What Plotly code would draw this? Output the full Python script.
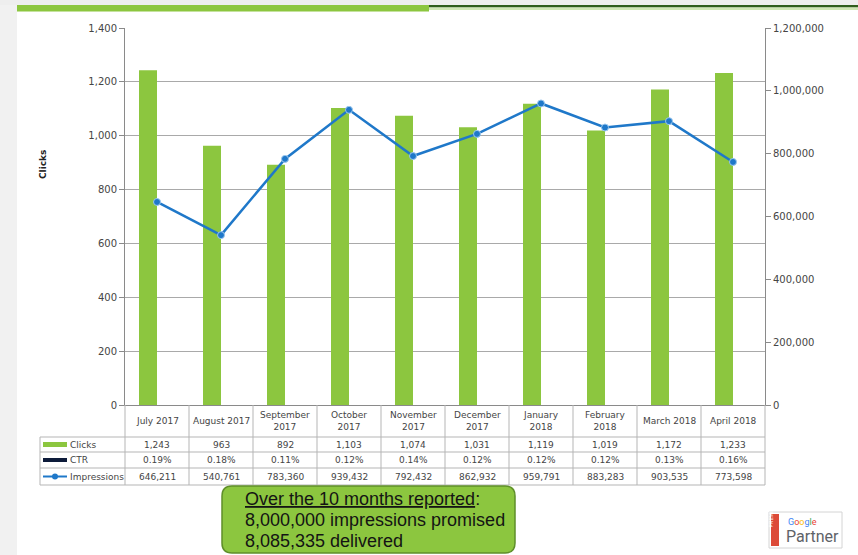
import plotly.graph_objects as go

# ---- data ----
months = ["July 2017", "August 2017", "September 2017", "October 2017", "November 2017",
          "December 2017", "January 2018", "February 2018", "March 2018", "April 2018"]
month_headers = ["July 2017", "August 2017", "September<br>2017", "October<br>2017", "November<br>2017",
                 "December<br>2017", "January<br>2018", "February<br>2018", "March 2018", "April 2018"]
clicks = [1243, 963, 892, 1103, 1074, 1031, 1119, 1019, 1172, 1233]
ctr_pct = [0.19, 0.18, 0.11, 0.12, 0.14, 0.12, 0.12, 0.12, 0.13, 0.16]
impressions = [646211, 540761, 783360, 939432, 792432, 862932, 959791, 883283, 903535, 773598]
clicks_ticks = [0, 200, 400, 600, 800, 1000, 1200, 1400]
impr_ticks = [0, 200000, 400000, 600000, 800000, 1000000, 1200000]
summary_lines = ["<u>Over the 10 months reported</u>:",
                 "8,000,000 impressions promised",
                 "8,085,335 delivered"]
row_names = ["Clicks", "CTR", "Impressions"]

# ---- styling ----
GREEN = "#8cc63f"
NAVY = "#0d1b3a"
BLUE = "#1f78c9"
GRID = "#a9a9a9"
AXIS = "#8a8a8a"
TXT = "#454545"
FONT = "Liberation Sans, Arial, sans-serif"
SMALL = "DejaVu Sans, Verdana, sans-serif"

W, H = 858, 555
L, R, T, B = 125, 765, 28, 405
PW, PH = R - L, B - T


def px(x):
    return (x - L) / PW


def py(y):
    return (B - y) / PH


fig = go.Figure()
fig.add_trace(go.Bar(x=months, y=clicks, name="Clicks", marker=dict(color=GREEN, line=dict(width=0))))
fig.add_trace(go.Bar(x=months, y=[v / 100 for v in ctr_pct], name="CTR",
                     marker=dict(color=NAVY, line=dict(width=0))))
fig.add_trace(go.Scatter(x=months, y=impressions, name="Impressions", yaxis="y2",
                         mode="lines+markers", line=dict(color=BLUE, width=2.5),
                         marker=dict(color=BLUE, size=7, line=dict(color="#9cc8ef", width=1))))

shapes = []
annotations = []

# page decoration
shapes.append(dict(type="rect", xref="paper", yref="paper", x0=px(0), x1=px(17), y0=py(H), y1=py(0),
                   fillcolor="#f1f1f1", line=dict(width=0), layer="below"))
shapes.append(dict(type="rect", xref="paper", yref="paper", x0=px(0), x1=px(W), y0=py(5), y1=py(0),
                   fillcolor="#eeeeee", line=dict(width=0), layer="below"))
shapes.append(dict(type="rect", xref="paper", yref="paper", x0=px(17), x1=px(429), y0=py(11.5), y1=py(5),
                   fillcolor=GREEN, line=dict(width=0), layer="below"))
shapes.append(dict(type="rect", xref="paper", yref="paper", x0=px(429), x1=px(W), y0=py(7.5), y1=py(5),
                   fillcolor="#2f5d1d", line=dict(width=0), layer="below"))
shapes.append(dict(type="rect", xref="paper", yref="paper", x0=px(429), x1=px(W), y0=py(10), y1=py(7.5),
                   fillcolor="#cfe6b4", line=dict(width=0), layer="below"))

# data table grid
row_edges = [405, 437, 452, 468, 485]
col_w = PW / len(months)
for ye in row_edges[1:]:
    shapes.append(dict(type="line", xref="paper", yref="paper", x0=px(40), x1=px(R), y0=py(ye), y1=py(ye),
                       line=dict(color="#b5b5b5", width=1)))
for i in range(len(months) + 1):
    xe = L + col_w * i
    shapes.append(dict(type="line", xref="paper", yref="paper", x0=px(xe), x1=px(xe),
                       y0=py(405), y1=py(485), line=dict(color="#b5b5b5", width=1)))
shapes.append(dict(type="line", xref="paper", yref="paper", x0=px(40), x1=px(40),
                   y0=py(437), y1=py(485), line=dict(color="#b5b5b5", width=1)))

row_values = [[f"{v:,}" for v in clicks],
              [f"{v:.2f}%" for v in ctr_pct],
              [f"{v:,}" for v in impressions]]
for i, head in enumerate(month_headers):
    cx = L + col_w * (i + 0.5)
    annotations.append(dict(x=px(cx), y=py(421), xref="paper", yref="paper", text=head, showarrow=False,
                            font=dict(size=9, color=TXT, family=SMALL), xanchor="center", yanchor="middle"))
    for r in range(3):
        cy = (row_edges[r + 1] + row_edges[r + 2]) / 2
        annotations.append(dict(x=px(cx), y=py(cy), xref="paper", yref="paper", text=row_values[r][i],
                                showarrow=False, font=dict(size=9, color=TXT, family=SMALL),
                                xanchor="center", yanchor="middle"))

# row headers with legend keys
for r, name in enumerate(row_names):
    cy = (row_edges[r + 1] + row_edges[r + 2]) / 2
    annotations.append(dict(x=px(68), y=py(cy), xref="paper", yref="paper", text=name, showarrow=False,
                            font=dict(size=9, color=TXT, family=SMALL), xanchor="left", yanchor="middle"))
k0, k1 = 43, 67
c_y = (row_edges[1] + row_edges[2]) / 2
shapes.append(dict(type="rect", xref="paper", yref="paper", x0=px(k0), x1=px(k1), y0=py(c_y + 2.5),
                   y1=py(c_y - 2.5), fillcolor=GREEN, line=dict(width=0)))
c_y = (row_edges[2] + row_edges[3]) / 2
shapes.append(dict(type="rect", xref="paper", yref="paper", x0=px(k0), x1=px(k1), y0=py(c_y + 2),
                   y1=py(c_y - 2), fillcolor=NAVY, line=dict(width=0)))
c_y = (row_edges[3] + row_edges[4]) / 2
shapes.append(dict(type="line", xref="paper", yref="paper", x0=px(k0), x1=px(k1), y0=py(c_y), y1=py(c_y),
                   line=dict(color=BLUE, width=2)))
shapes.append(dict(type="circle", xref="paper", yref="paper", x0=px(52), x1=px(58), y0=py(c_y + 3),
                   y1=py(c_y - 3), fillcolor=BLUE, line=dict(width=0)))

# axis title
annotations.append(dict(x=px(43), y=py(165), xref="paper", yref="paper", text="<b>Clicks</b>",
                        showarrow=False, textangle=-90, xanchor="center", yanchor="middle",
                        font=dict(size=9, color="#222222", family=SMALL)))

# summary call-out box
bx0, bx1, by0, by1 = px(222), px(515), py(486), py(553)
rx, ry = 10 / PW, 10 / PH
path = (f"M {bx0 + rx},{by0} L {bx1 - rx},{by0} Q {bx1},{by0} {bx1},{by0 - ry} "
        f"L {bx1},{by1 + ry} Q {bx1},{by1} {bx1 - rx},{by1} L {bx0 + rx},{by1} "
        f"Q {bx0},{by1} {bx0},{by1 + ry} L {bx0},{by0 - ry} Q {bx0},{by0} {bx0 + rx},{by0} Z")
shapes.append(dict(type="path", xref="paper", yref="paper", path=path, fillcolor=GREEN,
                   line=dict(color="#5f8f2a", width=1.5)))
for text, yl in zip(summary_lines, [499, 520, 541]):
    annotations.append(dict(x=px(243), y=py(yl), xref="paper", yref="paper", text=text, showarrow=False,
                            font=dict(size=18, color="#141414", family=FONT), xanchor="left",
                            yanchor="middle"))

# partner badge
shapes.append(dict(type="rect", xref="paper", yref="paper", x0=px(769), x1=px(842), y0=py(548), y1=py(512),
                   fillcolor="white", line=dict(color="#d4d4d4", width=1)))
shapes.append(dict(type="rect", xref="paper", yref="paper", x0=px(771), x1=px(779), y0=py(546), y1=py(514),
                   fillcolor="#dc4a38", line=dict(width=0)))
annotations.append(dict(x=px(775), y=py(530), xref="paper", yref="paper", text="PREMIER", showarrow=False,
                        textangle=-90, font=dict(size=5, color="white", family=FONT)))
google = ("<span style='color:#4285f4'>G</span><span style='color:#ea4335'>o</span>"
          "<span style='color:#fbbc05'>o</span><span style='color:#4285f4'>g</span>"
          "<span style='color:#34a853'>l</span><span style='color:#ea4335'>e</span>")
annotations.append(dict(x=px(786), y=py(522), xref="paper", yref="paper", text=google, showarrow=False,
                        xanchor="left", yanchor="middle", font=dict(size=9, family="Roboto, sans-serif")))
annotations.append(dict(x=px(784), y=py(536), xref="paper", yref="paper", text="Partner", showarrow=False,
                        xanchor="left", yanchor="middle",
                        font=dict(size=16, color="#5f6368", family="Roboto, sans-serif")))

fig.update_layout(
    width=W, height=H,
    margin=dict(l=L, r=W - R, t=T, b=H - B, pad=0),
    paper_bgcolor="white", plot_bgcolor="white",
    barmode="group", bargap=0.4375, bargroupgap=0,
    showlegend=False,
    font=dict(family=SMALL, size=9, color=TXT),
    xaxis=dict(showticklabels=False, ticks="", showline=True, linecolor=AXIS, linewidth=1,
               range=[-0.5, len(months) - 0.5], showgrid=False),
    yaxis=dict(range=[0, 1400], tickvals=clicks_ticks, tickformat=",", ticks="outside", ticklen=5,
               tickcolor=AXIS, showgrid=True, gridcolor=GRID, gridwidth=1, showline=True,
               linecolor=AXIS, zeroline=False, tickfont=dict(size=10, color=TXT, family=SMALL)),
    yaxis2=dict(range=[0, 1200000], tickvals=impr_ticks, tickformat=",", ticks="outside", ticklen=5,
                tickcolor=AXIS, overlaying="y", side="right", showgrid=False, showline=True,
                linecolor=AXIS, zeroline=False, tickfont=dict(size=10, color=TXT, family=SMALL)),
    shapes=shapes,
    annotations=annotations,
)

fig.write_html("out.html")
